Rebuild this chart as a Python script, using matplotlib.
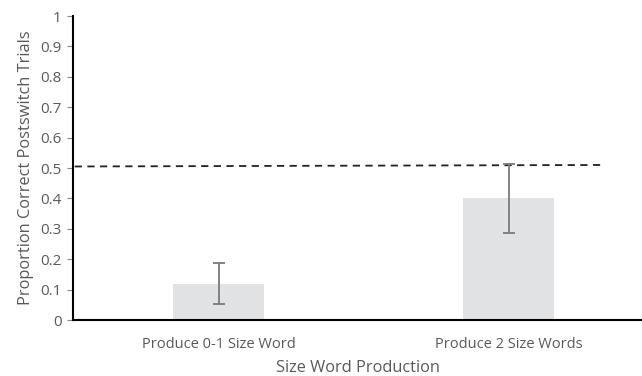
import matplotlib.pyplot as plt

groups = ["Produce 0-1 Size Word", "Produce 2 Size Words"]
means = [0.12, 0.40]
errors = [0.068, 0.113]
chance_x = [-0.497, 1.331]
chance_y = [0.505, 0.51]
yticks = [0, 0.1, 0.2, 0.3, 0.4, 0.5, 0.6, 0.7, 0.8, 0.9, 1]
ytick_labels = ["0", "0.1", "0.2", "0.3", "0.4", "0.5", "0.6", "0.7", "0.8", "0.9", "1"]

plt.rcParams["font.family"] = ["Open Sans", "DejaVu Sans"]
text_color = "#595959"

fig = plt.figure(figsize=(6.42, 3.76), dpi=100)
ax = fig.add_axes([73 / 642, 56 / 376, 569 / 642, 304 / 376])

pos = list(range(len(groups)))
ax.bar(pos, means, width=0.314, color="#e1e2e4", zorder=1)
ax.errorbar(pos, means, yerr=errors, fmt="none", ecolor="#7a7a7a",
            elinewidth=1.3, capsize=4, capthick=1.3, zorder=3)
ax.plot(chance_x, chance_y, color="#222222", linestyle=(0, (4, 3)),
        linewidth=1.3, zorder=2)

ax.set_xlim(-0.503, 1.459)
ax.set_ylim(0, 1)
ax.set_yticks(yticks)
ax.set_yticklabels(ytick_labels)
ax.set_xticks(pos)
ax.set_xticklabels(groups)

for side in ["top", "right"]:
    ax.spines[side].set_visible(False)
for side in ["left", "bottom"]:
    ax.spines[side].set_linewidth(1.5)
    ax.spines[side].set_color("black")

ax.tick_params(axis="y", length=4, width=0.8, color="#888888",
               labelcolor=text_color, labelsize=11, pad=4)
ax.tick_params(axis="x", length=0, labelcolor=text_color, labelsize=10.5, pad=12)

ax.set_xlabel("Size Word Production", color=text_color, fontsize=11.8, labelpad=6)
ax.set_ylabel("Proportion Correct Postswitch Trials", color=text_color,
              fontsize=11.8, labelpad=5)

fig.savefig("out.png", dpi=100)
